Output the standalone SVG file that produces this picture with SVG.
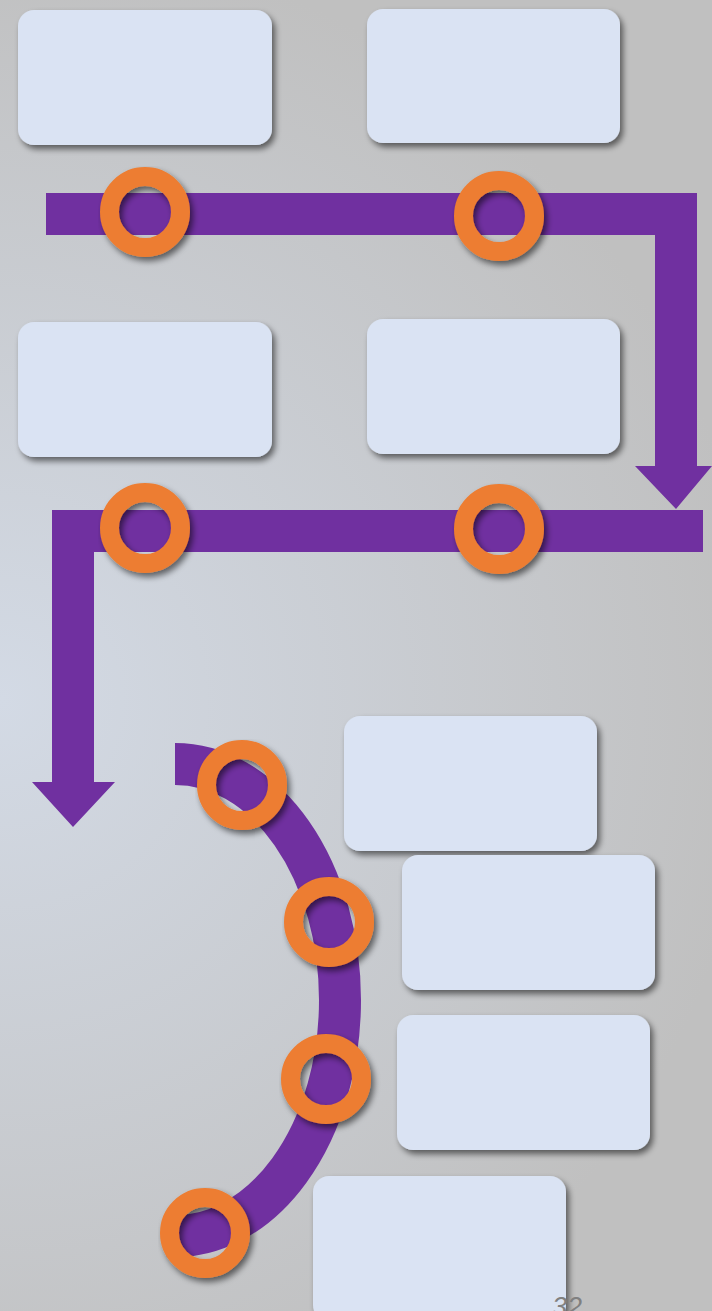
<svg xmlns="http://www.w3.org/2000/svg" width="712" height="1311" viewBox="0 0 712 1311">
<defs>
<radialGradient id="bg" cx="0" cy="700" r="760" gradientUnits="userSpaceOnUse">
<stop offset="0" stop-color="#d3dae5"/>
<stop offset="1" stop-color="#c0c0c0"/>
</radialGradient>
<filter id="sh" x="-20%" y="-20%" width="150%" height="150%">
<feGaussianBlur in="SourceAlpha" stdDeviation="3"/>
<feOffset dx="3" dy="4" result="b"/>
<feComponentTransfer><feFuncA type="linear" slope="0.55"/></feComponentTransfer>
<feMerge><feMergeNode/><feMergeNode in="SourceGraphic"/></feMerge>
</filter>
<style>
.box{fill:#dae3f3;filter:url(#sh)}
.path{fill:#7030a0}
.arc{fill:none;stroke:#7030a0;stroke-width:42}
.ring{fill:none;stroke:#ed7d31;stroke-width:19;filter:url(#sh)}
.pg{font-family:"Liberation Sans",Arial,sans-serif;font-size:27px;font-style:italic;fill:#808080}
</style>
</defs>
<rect width="712" height="1311" fill="url(#bg)"/>
<g id="connectors">
<path class="path" d="M46,193 H697 V466 H712 L676,509 L635,466 H655 V235 H46 Z"/>
<path class="path" d="M703,510 V552 H94 V782 H115 L73,827 L32,782 H52 V510 Z"/>
<path class="arc" d="M175,764 A165,236 0 0 1 340,1000 A165,236 0 0 1 168,1236"/>
</g>
<g id="box1"><rect class="box" x="18" y="10" width="254" height="135" rx="16"/></g>
<g id="box2"><rect class="box" x="367" y="9" width="253" height="134" rx="16"/></g>
<g id="box3"><rect class="box" x="18" y="322" width="254" height="135" rx="16"/></g>
<g id="box4"><rect class="box" x="367" y="319" width="253" height="135" rx="16"/></g>
<g id="box5"><rect class="box" x="344" y="716" width="253" height="135" rx="16"/></g>
<g id="box6"><rect class="box" x="402" y="855" width="253" height="135" rx="16"/></g>
<g id="box7"><rect class="box" x="397" y="1015" width="253" height="135" rx="16"/></g>
<g id="box8"><rect class="box" x="313" y="1176" width="253" height="145" rx="16"/></g>
<g id="ring1"><circle class="ring" cx="145" cy="212" r="35.5"/></g>
<g id="ring2"><circle class="ring" cx="499" cy="216" r="35.5"/></g>
<g id="ring3"><circle class="ring" cx="145" cy="528" r="35.5"/></g>
<g id="ring4"><circle class="ring" cx="499" cy="529" r="35.5"/></g>
<g id="ring5"><circle class="ring" cx="242" cy="785" r="35.5"/></g>
<g id="ring6"><circle class="ring" cx="329" cy="922" r="35.5"/></g>
<g id="ring7"><circle class="ring" cx="326" cy="1079" r="35.5"/></g>
<g id="ring8"><circle class="ring" cx="205" cy="1233" r="35.5"/></g>
<text class="pg" x="552" y="1316">32</text>
</svg>
